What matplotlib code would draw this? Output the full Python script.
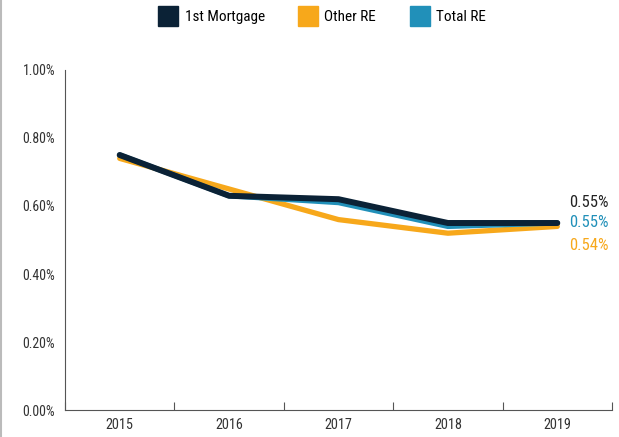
import matplotlib
matplotlib.use("Agg")
import matplotlib.pyplot as plt
from matplotlib.lines import Line2D
import logging
logging.getLogger('matplotlib.font_manager').setLevel(logging.ERROR)

years = ["2015", "2016", "2017", "2018", "2019"]
first_mortgage = [0.75, 0.63, 0.62, 0.55, 0.55]
other_re = [0.74, 0.65, 0.56, 0.52, 0.54]
total_re = [0.75, 0.63, 0.61, 0.54, 0.55]
y_ticks = [0.0, 0.2, 0.4, 0.6, 0.8, 1.0]
end_labels = ["0.55%", "0.55%", "0.54%"]

c_black = "#0B2236"
c_orange = "#F7A81B"
c_blue = "#2190B9"

plt.rcParams['font.family'] = ['Roboto Condensed', 'Archivo Narrow', 'DejaVu Sans']

fig = plt.figure(figsize=(6.19, 4.37), dpi=100)
ax = fig.add_axes([65/619, 1-410/437, (612-65)/619, (410-70)/437])

x = list(range(len(years)))
ax.plot(x, other_re, color=c_orange, lw=3.8, solid_capstyle='round', zorder=2)
ax.plot(x, total_re, color=c_blue, lw=3.8, solid_capstyle='round', zorder=3)
ax.plot(x, first_mortgage, color=c_black, lw=4.3, solid_capstyle='round', zorder=4)

ax.set_xlim(-0.5, len(years)-0.5)
ax.set_ylim(0, 1.0)
ax.set_yticks(y_ticks)
ax.set_yticklabels([f"{v:.2f}%" for v in y_ticks], fontsize=10, color="#333333")
ax.tick_params(axis='y', length=0, pad=7)
ax.set_xticks(x)
ax.set_xticklabels(years, fontsize=10.3, color="#333333")
ax.tick_params(axis='x', which='major', length=0, pad=6)
ax.set_xticks([i - 0.5 for i in range(len(years)+1)], minor=True)
ax.tick_params(axis='x', which='minor', direction='in', length=6, width=0.8, color="#555555")
for s in ['top', 'right']:
    ax.spines[s].set_visible(False)
for s in ['left', 'bottom']:
    ax.spines[s].set_color("#555555")
    ax.spines[s].set_linewidth(0.8)

last = len(years) - 1
ax.annotate(end_labels[0], (last, first_mortgage[-1]), xytext=(8.5, 15), textcoords='offset points',
            color="#222222", fontsize=12, va='center', ha='left')
ax.annotate(end_labels[1], (last, total_re[-1]), xytext=(8.5, 0), textcoords='offset points',
            color=c_blue, fontsize=12, va='center', ha='left')
ax.annotate(end_labels[2], (last, other_re[-1]), xytext=(8.5, -14), textcoords='offset points',
            color=c_orange, fontsize=12, va='center', ha='left')

handles = [Line2D([], [], marker='s', linestyle='', markersize=14, color=c) for c in (c_black, c_orange, c_blue)]
fig.legend(handles, ["1st Mortgage", "Other RE", "Total RE"], loc='center', bbox_to_anchor=(322/619, 1-17/437),
           ncol=3, frameon=False, fontsize=11, handletextpad=0.4, columnspacing=2.2, handlelength=1.3)

fig.add_artist(Line2D([1/619, 1/619], [0, 1], color="#BBBBBB", lw=1.5, transform=fig.transFigure))

fig.savefig("out.png", dpi=100)
